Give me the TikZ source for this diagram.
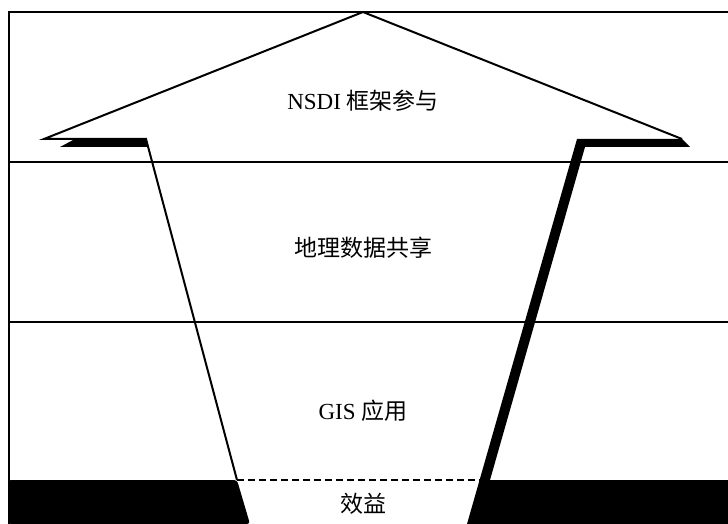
\documentclass[tikz,border=0pt]{standalone}
\usepackage{fontspec}
\setmainfont{Liberation Serif}
\newfontfamily\cjk{Noto Sans CJK SC}
\begin{document}
\begin{tikzpicture}[x=1pt,y=-1pt]
\tikzset{
  rule/.style={line width=2pt},
  lbl/.style={font=\fontsize{23}{27}\selectfont, inner sep=0pt, anchor=center},
  blk/.style={fill=black, draw=none},
}
\useasboundingbox (0,0) rectangle (728,524);
% named points
\coordinate (apex) at (363,12);
\coordinate (ltip) at (44,139);
\coordinate (rtip) at (682,139);
\coordinate (lsh) at (146,139);
\coordinate (rsh) at (577,139);
\coordinate (lfoot) at (237,480);
\coordinate (rfoot) at (480,480);
% frame and layer rules
\draw[rule] (9,524) -- (9,12) -- (728,12);
\draw[rule] (9,162) -- (728,162);
\draw[rule] (9,322) -- (728,322);
% bottom black band
\fill[blk, rounded corners=3pt] (8,480) -- (lfoot) -- (250,524) -- (8,524) -- cycle;
% left shoulder shadow
\fill[blk] (60,147) -- (75,139) -- (lsh) -- (148,147) -- cycle;
% right shoulder, shaft shadow and bottom right band
\fill[blk] (rsh) -- (rtip) -- (690,147) -- (585,147) -- (490,480) -- (728,480) -- (728,524) -- (467,524) -- cycle;
% arrow outline
\draw[rule, line join=miter] (lfoot) -- (lsh) -- (ltip) -- (apex) -- (rtip);
% dashed base
\draw[line width=2pt, dash pattern=on 7pt off 4pt] (lfoot) -- (rfoot);
% labels
\node[lbl] (t1) at (363,101) {NSDI {\cjk 框架参与}};
\node[lbl] (t2) at (363,248) {\cjk 地理数据共享};
\node[lbl] (t3) at (363,411) {GIS {\cjk 应用}};
\node[lbl] (t4) at (363,504) {\cjk 效益};
\end{tikzpicture}
\end{document}
